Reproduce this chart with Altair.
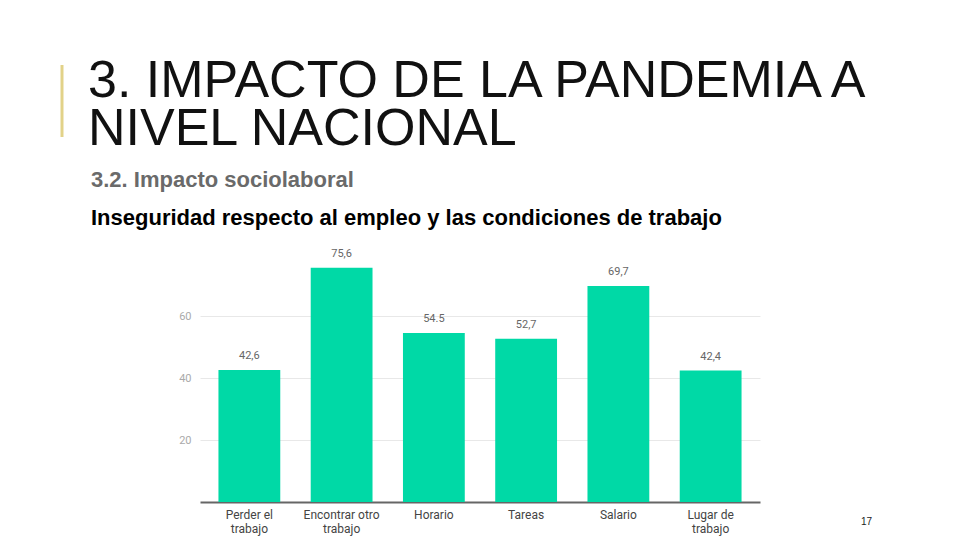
import altair as alt
import pandas as pd

categories = ["Perder el|trabajo", "Encontrar otro|trabajo", "Horario", "Tareas", "Salario", "Lugar de|trabajo"]
values = [42.6, 75.6, 54.5, 52.7, 69.7, 42.4]
value_labels = ["42,6", "75,6", "54.5", "52,7", "69,7", "42,4"]
y_ticks = [20, 40, 60]

title_lines = ["3. IMPACTO DE LA PANDEMIA A", "NIVEL NACIONAL"]
subtitle = "3.2. Impacto sociolaboral"
heading = "Inseguridad respecto al empleo y las condiciones de trabajo"
page_number = "17"

df = pd.DataFrame({"cat": categories, "val": values, "lab": value_labels})

FONT = "Liberation Sans"
CHART_FONT = "Roboto"

x_enc = alt.X("cat:N", sort=categories, title=None,
              scale=alt.Scale(paddingInner=0.33, paddingOuter=0.2),
              axis=alt.Axis(labelExpr="split(datum.label, '|')", labelAngle=0,
                            labelColor="#444444", labelFontSize=12, labelFont=CHART_FONT,
                            labelLineHeight=14, labelPadding=7, ticks=False,
                            domainColor="#666666", domainWidth=2, grid=False))
y_enc = alt.Y("val:Q", title=None, scale=alt.Scale(domain=[0, 80]),
              axis=alt.Axis(values=y_ticks, labelColor="#aaaaaa", labelFontSize=11,
                            labelFont=CHART_FONT, labelPadding=9, ticks=False, domain=False,
                            gridColor="#e8e8e8", gridWidth=1))

base = alt.Chart(df)
bars = base.mark_bar(color="#00d9a6").encode(x=x_enc, y=y_enc)
labels = base.mark_text(baseline="bottom", dy=-9, fontSize=11, color="#666666",
                        font=CHART_FONT).encode(
    x=alt.X("cat:N", sort=categories), y="val:Q", text="lab:N")

def txt(s, x, y, size, weight="normal", color="#000000", font=FONT, line_height=None):
    kw = dict(align="left", baseline="alphabetic", fontSize=size, fontWeight=weight,
              color=color, font=font)
    if line_height is not None:
        kw["lineHeight"] = line_height
    return alt.Chart(pd.DataFrame({"t": [s]})).mark_text(**kw).encode(
        text="t", x=alt.value(x), y=alt.value(y))

t1 = txt(title_lines, -112, -157, 52, color="#111111", line_height=48)
t3 = txt(subtitle, -109, -67, 22, weight="bold", color="#6a6a6a")
t4 = txt(heading, -109, -29, 22, weight="bold", color="#000000")
t5 = txt(page_number, 661, 271, 10, color="#222222")

accent = alt.Chart(pd.DataFrame({"a": [0]})).mark_rule(color="#e2d289", strokeWidth=3).encode(
    x=alt.value(-138), y=alt.value(-189), y2=alt.value(-117))

chart = alt.layer(bars, labels, t1, t3, t4, t5, accent).properties(
    width=560, height=248,
    autosize=alt.AutoSizeParams(type="none"),
    padding={"left": 192, "top": 246, "right": 192, "bottom": 38},
    background="white",
).configure_view(stroke=None)

chart.save("out.html", embed_options={"renderer": "svg", "actions": False})
